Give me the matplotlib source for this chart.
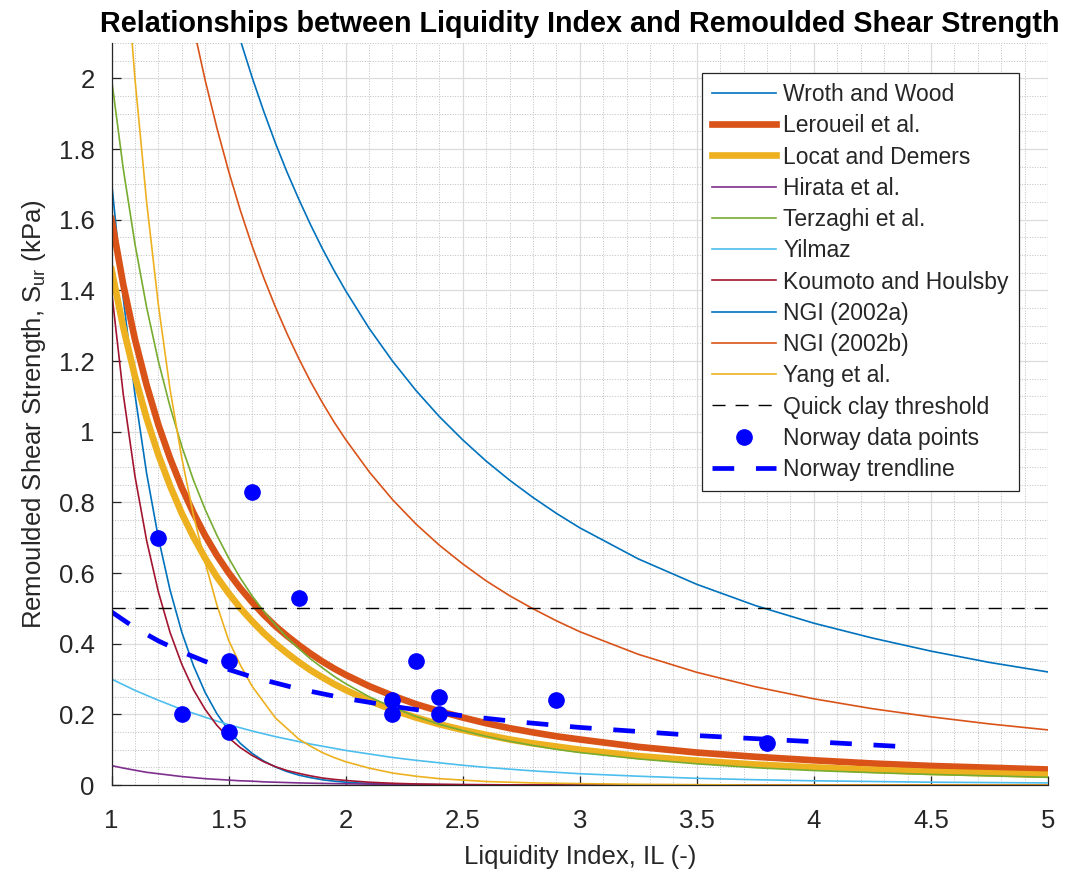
import numpy as np
import matplotlib
matplotlib.use("Agg")
import matplotlib.pyplot as plt

plt.rcParams['font.family'] = ['Liberation Sans', 'DejaVu Sans']
plt.rcParams['mathtext.fontset'] = 'custom'
plt.rcParams['mathtext.rm'] = 'Liberation Sans'

# liquidity index grid used for the correlation curves
il = [1.0, 1.05, 1.1, 1.15, 1.2, 1.25, 1.3, 1.35, 1.4, 1.45, 1.5, 1.55, 1.6, 1.65, 1.7, 1.75, 1.8, 1.85, 1.9, 1.95,
      2.0, 2.1, 2.2, 2.3, 2.4, 2.5, 2.6, 2.7, 2.8, 2.9, 3.0, 3.25, 3.5, 3.75, 4.0, 4.25, 4.5, 4.75, 5.0]

wroth_wood = [1.709, 1.379, 1.106, 0.882, 0.700, 0.552, 0.433, 0.338, 0.262, 0.202, 0.155, 0.118, 0.090, 0.068,
              0.051, 0.038, 0.028, 0.021, 0.015, 0.011, 0.008, 0.0042, 0.002, 0.001, 0.0005, 0.0002, 0, 0, 0, 0,
              0, 0, 0, 0, 0, 0, 0, 0, 0]
leroueil = [1.602, 1.417, 1.262, 1.132, 1.020, 0.925, 0.842, 0.770, 0.706, 0.650, 0.601, 0.557, 0.518, 0.482,
            0.450, 0.422, 0.396, 0.372, 0.350, 0.330, 0.312, 0.280, 0.253, 0.229, 0.209, 0.191, 0.175, 0.161,
            0.149, 0.138, 0.129, 0.108, 0.092, 0.080, 0.070, 0.061, 0.054, 0.049, 0.044]
locat_demers = [1.459, 1.296, 1.157, 1.038, 0.935, 0.847, 0.769, 0.702, 0.642, 0.589, 0.543, 0.501, 0.464, 0.430,
                0.400, 0.373, 0.348, 0.325, 0.305, 0.286, 0.269, 0.239, 0.213, 0.191, 0.172, 0.156, 0.142, 0.129,
                0.118, 0.109, 0.100, 0.082, 0.069, 0.058, 0.050, 0.043, 0.037, 0.033, 0.029]
hirata = [0.055, 0.048, 0.042, 0.036, 0.032, 0.028, 0.024, 0.021, 0.018, 0.016, 0.014, 0.012, 0.011, 0.009,
          0.008, 0.007, 0.006, 0.0053, 0.0046, 0.004, 0.0035, 0.0027, 0.002, 0.0015, 0.0012, 0.0009, 0.0007,
          0.0005, 0.0004, 0.0003, 0.0002, 0, 0, 0, 0, 0, 0, 0, 0]
terzaghi = [2.0, 1.745, 1.532, 1.352, 1.200, 1.071, 0.959, 0.863, 0.780, 0.707, 0.643, 0.586, 0.536, 0.492,
            0.453, 0.417, 0.386, 0.357, 0.332, 0.308, 0.287, 0.250, 0.220, 0.194, 0.172, 0.154, 0.138, 0.124,
            0.112, 0.101, 0.092, 0.074, 0.060, 0.049, 0.041, 0.035, 0.030, 0.026, 0.022]
yilmaz = [0.300, 0.284, 0.268, 0.254, 0.240, 0.227, 0.214, 0.203, 0.192, 0.181, 0.171, 0.162, 0.153, 0.145,
          0.137, 0.130, 0.123, 0.116, 0.110, 0.104, 0.098, 0.088, 0.078, 0.070, 0.063, 0.056, 0.050, 0.045,
          0.040, 0.036, 0.032, 0.025, 0.019, 0.015, 0.012, 0.010, 0.008, 0.007, 0.006]
koumoto = [1.400, 1.107, 0.875, 0.692, 0.547, 0.432, 0.342, 0.270, 0.214, 0.169, 0.134, 0.106, 0.084, 0.066,
           0.052, 0.041, 0.033, 0.026, 0.020, 0.016, 0.013, 0.008, 0.005, 0.003, 0.002, 0.0012, 0.0008, 0.0005,
           0.0003, 0.0002, 0.0001, 0, 0, 0, 0, 0, 0, 0, 0]
ngi_a = [4.27, 3.96, 3.66, 3.39, 3.17, 2.98, 2.79, 2.63, 2.48, 2.348, 2.223, 2.109, 2.004, 1.907, 1.817, 1.734,
         1.658, 1.586, 1.519, 1.457, 1.399, 1.293, 1.200, 1.117, 1.043, 0.977, 0.917, 0.863, 0.814, 0.769,
         0.728, 0.640, 0.568, 0.508, 0.458, 0.416, 0.379, 0.347, 0.320]
ngi_b = [3.91, 3.55, 3.23, 2.96, 2.72, 2.50, 2.31, 2.145, 1.995, 1.860, 1.738, 1.627, 1.527, 1.436, 1.353, 1.277,
         1.207, 1.142, 1.083, 1.028, 0.978, 0.887, 0.808, 0.739, 0.679, 0.626, 0.578, 0.536, 0.499, 0.465,
         0.434, 0.370, 0.319, 0.278, 0.244, 0.216, 0.193, 0.173, 0.156]
yang = [2.94, 2.43, 2.00, 1.65, 1.36, 1.12, 0.926, 0.764, 0.630, 0.51, 0.41, 0.34, 0.28, 0.235, 0.19, 0.16,
        0.13, 0.11, 0.092, 0.078, 0.066, 0.048, 0.034, 0.025, 0.018, 0.014, 0.010, 0.008, 0.006, 0.005,
        0.004, 0.002, 0.001, 0, 0, 0, 0, 0, 0]

threshold = 0.5

# Norway data
norway_il = [1.2, 1.3, 1.5, 1.5, 1.6, 1.8, 2.2, 2.2, 2.3, 2.4, 2.4, 2.9, 3.8]
norway_su = [0.70, 0.20, 0.35, 0.15, 0.83, 0.53, 0.24, 0.20, 0.35, 0.25, 0.20, 0.24, 0.12]
trend_il = [1.0, 1.1, 1.2, 1.3, 1.4, 1.5, 1.6, 1.8, 2.0, 2.25, 2.5, 2.75, 3.0, 3.5, 4.0, 4.4]
trend_su = [0.490, 0.445, 0.408, 0.377, 0.350, 0.327, 0.306, 0.272, 0.245, 0.218, 0.196, 0.178, 0.163,
            0.140, 0.1225, 0.108]

xticks = [1, 1.5, 2, 2.5, 3, 3.5, 4, 4.5, 5]
xticklabels = ['1', '1.5', '2', '2.5', '3', '3.5', '4', '4.5', '5']
yticks = [0, 0.2, 0.4, 0.6, 0.8, 1.0, 1.2, 1.4, 1.6, 1.8, 2.0]
yticklabels = ['0', '0.2', '0.4', '0.6', '0.8', '1', '1.2', '1.4', '1.6', '1.8', '2']

c_blue = '#0072BD'
c_orange = '#D95319'
c_yellow = '#EDB120'
c_purple = '#7E2F8E'
c_green = '#77AC30'
c_lblue = '#4DBEEE'
c_red = '#A2142F'
ax_col = '#262626'

fig = plt.figure(figsize=(10.66, 8.71), dpi=100)
ax = fig.add_axes([0.1046, 0.0987, 0.8785, 0.8519])

thin = 1.2
ax.plot(il, wroth_wood, color=c_blue, lw=thin, label='Wroth and Wood')
ax.plot(il, leroueil, color=c_orange, lw=4.8, label='Leroueil et al.')
ax.plot(il, locat_demers, color=c_yellow, lw=4.8, label='Locat and Demers')
ax.plot(il, hirata, color=c_purple, lw=thin, label='Hirata et al.')
ax.plot(il, terzaghi, color=c_green, lw=thin, label='Terzaghi et al.')
ax.plot(il, yilmaz, color=c_lblue, lw=thin, label='Yilmaz')
ax.plot(il, koumoto, color=c_red, lw=thin, label='Koumoto and Houlsby')
ax.plot(il, ngi_a, color=c_blue, lw=thin, label='NGI (2002a)')
ax.plot(il, ngi_b, color=c_orange, lw=thin, label='NGI (2002b)')
ax.plot(il, yang, color=c_yellow, lw=thin, label='Yang et al.')
ax.plot([1, 5], [threshold, threshold], color='k', lw=1.0, dashes=(9.4, 7.2), label='Quick clay threshold')
ax.plot(norway_il, norway_su, 'o', color='#0000FF', ms=11, label='Norway data points')
ax.plot(trend_il, trend_su, color='#0000FF', lw=3.4, dashes=(4.6, 4.6), dash_capstyle='butt',
        label='Norway trendline')

ax.set_xlim(1, 5)
ax.set_ylim(0, 2.1)
ax.set_xticks(xticks)
ax.set_xticklabels(xticklabels)
ax.set_yticks(yticks)
ax.set_yticklabels(yticklabels)
ax.set_xticks(np.arange(1, 5.001, 0.1), minor=True)
ax.set_yticks(np.arange(0, 2.101, 0.05), minor=True)
ax.tick_params(which='major', direction='in', length=6.5, width=0.9, colors=ax_col, labelsize=18.5)
ax.tick_params(axis='x', which='major', pad=17)
ax.tick_params(axis='y', which='major', pad=12)
ax.tick_params(which='minor', length=0)
ax.grid(which='major', color='#dcdcdc', lw=0.9, ls='-')
ax.grid(which='minor', color='#bfbfbf', lw=0.7, ls=':')
ax.set_axisbelow(True)
for s in ['top', 'right']:
    ax.spines[s].set_visible(False)
for s in ['left', 'bottom']:
    ax.spines[s].set_color(ax_col)
    ax.spines[s].set_linewidth(0.9)

ax.set_xlabel('Liquidity Index, IL (-)', fontsize=18.5, color=ax_col, labelpad=9)
ax.set_ylabel(r'Remoulded Shear Strength, S$_{\rm ur}$ (kPa)', fontsize=18.5, color=ax_col, labelpad=8)
ax.set_title('Relationships between Liquidity Index and Remoulded Shear Strength',
             fontsize=20.7, fontweight='bold', pad=8)

leg = ax.legend(loc='upper right', bbox_to_anchor=(0.969, 0.96), borderaxespad=0, fontsize=16.5,
                handlelength=2.8, handletextpad=0.3, labelspacing=0.36, borderpad=0.45,
                fancybox=False, framealpha=1, edgecolor=ax_col)
leg.get_frame().set_linewidth(0.9)
for t in leg.get_texts():
    t.set_color(ax_col)

fig.savefig('out.png', dpi=100)
